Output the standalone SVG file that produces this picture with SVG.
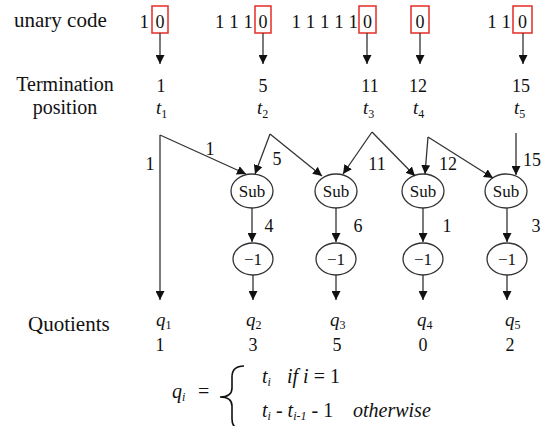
<svg xmlns="http://www.w3.org/2000/svg" width="543" height="426" viewBox="0 0 543 426" font-family="'Liberation Serif', 'Times New Roman', Tinos, 'DejaVu Serif', serif">
<defs>
<marker id="ah" viewBox="0 0 10 10" refX="10" refY="5" markerWidth="9" markerHeight="9" markerUnits="userSpaceOnUse" orient="auto">
<path d="M0,0 L10,5 L0,10 z" fill="#111"/>
</marker>
<style>
text{font-family:'Liberation Serif','Times New Roman',Tinos,'DejaVu Serif',serif;fill:#111}
.lbl{font-size:21px}
.lbl2{font-size:20px;text-anchor:middle}
.d{font-size:19px}
.f{font-size:20px}
.n{font-size:18px;text-anchor:middle}
.it{font-style:italic}
.sub{font-size:12px}
.box{fill:none;stroke:#e53935;stroke-width:1.6}
.c{stroke:#333;stroke-width:1.3;fill:none;marker-end:url(#ah)}
.node ellipse{fill:#fff;stroke:#333;stroke-width:1.3}
.node text{font-size:17px;text-anchor:middle}
</style>
</defs>
<rect width="543" height="426" fill="#fff"/>

<g id="labels">
<text class="lbl" x="14" y="27">unary code</text>
<text class="lbl2" x="65" y="91">Termination</text>
<text class="lbl2" x="65" y="114">position</text>
<text class="lbl" x="28" y="331">Quotients</text>
</g>

<g id="unary">
<text class="d" x="149" y="28" text-anchor="end">1</text>
<text class="d" x="253" y="28" text-anchor="end">1 1 1</text>
<text class="d" x="358" y="28" text-anchor="end">1 1 1 1 1</text>
<text class="d" x="511" y="28" text-anchor="end">1 1</text>
<rect class="box" x="152" y="6" width="16" height="27"/>
<rect class="box" x="255" y="6" width="16" height="27"/>
<rect class="box" x="359" y="6" width="17" height="27"/>
<rect class="box" x="411" y="6" width="18" height="27"/>
<rect class="box" x="513" y="6" width="19" height="27"/>
<text class="n" x="160" y="28">0</text>
<text class="n" x="263" y="28">0</text>
<text class="n" x="367.5" y="28">0</text>
<text class="n" x="420" y="28">0</text>
<text class="n" x="522.5" y="28">0</text>
</g>

<g id="terminations">
<text class="n" x="161" y="92">1</text>
<text class="n" x="263" y="92">5</text>
<text class="n" x="370" y="92">11</text>
<text class="n" x="418" y="92">12</text>
<text class="n" x="521" y="92">15</text>
<text class="it d" x="156" y="114">t<tspan class="sub" font-style="normal" dy="4">1</tspan></text>
<text class="it d" x="257" y="114">t<tspan class="sub" font-style="normal" dy="4">2</tspan></text>
<text class="it d" x="363" y="114">t<tspan class="sub" font-style="normal" dy="4">3</tspan></text>
<text class="it d" x="413" y="114">t<tspan class="sub" font-style="normal" dy="4">4</tspan></text>
<text class="it d" x="514" y="114">t<tspan class="sub" font-style="normal" dy="4">5</tspan></text>
</g>

<g id="sub1" class="node"><ellipse cx="252" cy="191" rx="21" ry="17"/><text x="252" y="197">Sub</text></g>
<g id="sub2" class="node"><ellipse cx="336" cy="191" rx="21" ry="17"/><text x="336" y="197">Sub</text></g>
<g id="sub3" class="node"><ellipse cx="423" cy="191" rx="21" ry="17"/><text x="423" y="197">Sub</text></g>
<g id="sub4" class="node"><ellipse cx="506" cy="191" rx="21" ry="17"/><text x="506" y="197">Sub</text></g>
<g id="dec1" class="node"><ellipse cx="253" cy="259" rx="20" ry="16"/><text x="253" y="265">−1</text></g>
<g id="dec2" class="node"><ellipse cx="336" cy="259" rx="20" ry="16"/><text x="336" y="265">−1</text></g>
<g id="dec3" class="node"><ellipse cx="423" cy="259" rx="20" ry="16"/><text x="423" y="265">−1</text></g>
<g id="dec4" class="node"><ellipse cx="507" cy="259" rx="20" ry="16"/><text x="507" y="265">−1</text></g>

<g id="connectors">
<line class="c" x1="160" y1="33" x2="160" y2="64"/>
<line class="c" x1="263" y1="33" x2="263" y2="64"/>
<line class="c" x1="367" y1="33" x2="367" y2="64"/>
<line class="c" x1="420" y1="33" x2="420" y2="64"/>
<line class="c" x1="523" y1="33" x2="523" y2="64"/>

<path class="c" d="M160,135 L160,300"/>
<path class="c" d="M160,135 L246,174"/>
<path class="c" d="M270,134 L255,174"/>
<path class="c" d="M270,134 L322,176"/>
<path class="c" d="M372,132 L343,174"/>
<path class="c" d="M372,132 L415,176"/>
<path class="c" d="M428,137 L425,174"/>
<path class="c" d="M428,137 L493,178"/>
<path class="c" d="M516,133 L516,175"/>

<line class="c" x1="252" y1="208" x2="252" y2="242"/>
<line class="c" x1="336" y1="208" x2="336" y2="242"/>
<line class="c" x1="423" y1="208" x2="423" y2="242"/>
<line class="c" x1="507" y1="208" x2="507" y2="242"/>
<line class="c" x1="253" y1="275" x2="253" y2="300"/>
<line class="c" x1="336" y1="275" x2="336" y2="300"/>
<line class="c" x1="423" y1="275" x2="423" y2="300"/>
<line class="c" x1="507" y1="275" x2="507" y2="300"/>
</g>

<g id="edge-labels">
<text class="n" x="150" y="170">1</text>
<text class="n" x="210" y="155">1</text>
<text class="n" x="277" y="165">5</text>
<text class="n" x="377" y="170">11</text>
<text class="n" x="448" y="170">12</text>
<text class="n" x="532" y="166">15</text>
<text class="n" x="269" y="232">4</text>
<text class="n" x="358" y="232">6</text>
<text class="n" x="447" y="232">1</text>
<text class="n" x="536" y="232">3</text>
</g>

<g id="quotients">
<text class="it d" x="156" y="326">q<tspan class="sub" font-style="normal" dy="3">1</tspan></text>
<text class="it d" x="246" y="326">q<tspan class="sub" font-style="normal" dy="3">2</tspan></text>
<text class="it d" x="330" y="326">q<tspan class="sub" font-style="normal" dy="3">3</tspan></text>
<text class="it d" x="417" y="326">q<tspan class="sub" font-style="normal" dy="3">4</tspan></text>
<text class="it d" x="505" y="326">q<tspan class="sub" font-style="normal" dy="3">5</tspan></text>
<text class="n" x="160" y="351">1</text>
<text class="n" x="253" y="351">3</text>
<text class="n" x="337" y="351">5</text>
<text class="n" x="423" y="351">0</text>
<text class="n" x="510" y="351">2</text>
</g>

<g id="formula">
<text class="f" x="172" y="398"><tspan class="it">q</tspan><tspan class="sub it" dy="3">i</tspan><tspan dy="-3" x="198">=</tspan></text>
<path d="M244,366 Q232,366 232,377 L232,388 Q232,397 220,397 Q232,397 232,406 L232,419 Q232,430 244,430" fill="none" stroke="#111" stroke-width="1.6"/>
<text class="f" x="262" y="383"><tspan class="it">t</tspan><tspan class="sub it" dy="3">i</tspan><tspan class="it" dy="-3" x="287">if i</tspan><tspan> = 1</tspan></text>
<text class="f" x="262" y="417"><tspan class="it">t</tspan><tspan class="sub it" dy="3">i</tspan><tspan dy="-3"> - </tspan><tspan class="it">t</tspan><tspan class="sub it" dy="3">i-1</tspan><tspan dy="-3"> - 1</tspan><tspan class="it" x="353">otherwise</tspan></text>
</g>
</svg>
